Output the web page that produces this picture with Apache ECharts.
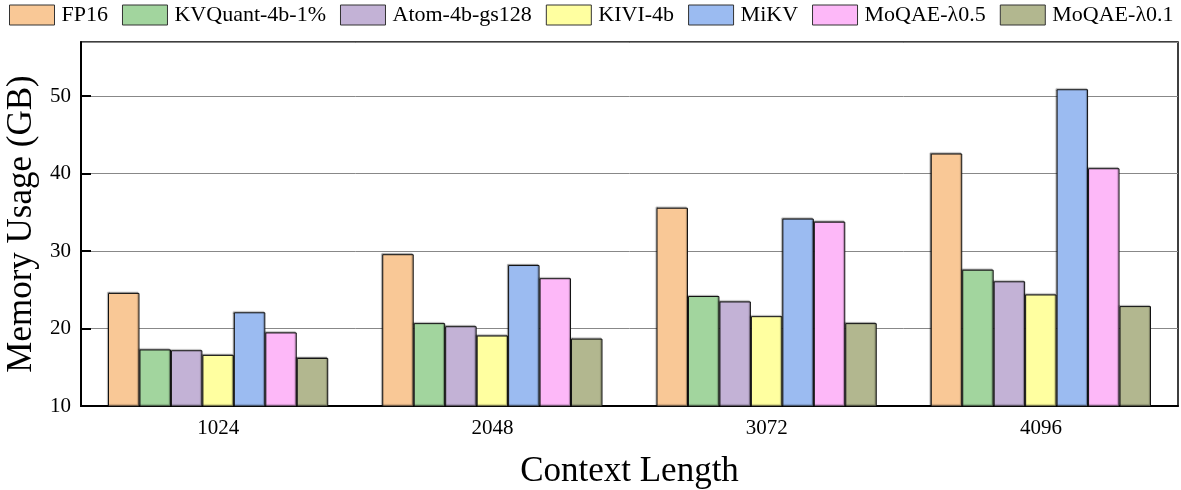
<!DOCTYPE html>
<html>
<head>
<meta charset="utf-8">
<script src="https://cdn.jsdelivr.net/npm/echarts@6/dist/echarts.min.js"></script>
<style>
  html, body { margin: 0; padding: 0; background: #fff; }
  #main { width: 1181px; height: 490px; }
</style>
</head>
<body>
<div id="main"></div>
<script>
var categories = ['1024', '2048', '3072', '4096']
var seriesNames = ['FP16', 'KVQuant-4b-1%', 'Atom-4b-gs128', 'KIVI-4b', 'MiKV', 'MoQAE-λ0.5', 'MoQAE-λ0.1']
var fp16 = [24.6, 29.6, 35.6, 42.6]
var kvquant = [17.3, 20.7, 24.2, 27.6]
var atom = [17.2, 20.3, 23.5, 26.1]
var kivi = [16.6, 19.1, 21.6, 24.4]
var mikv = [22.1, 28.2, 34.2, 50.9]
var moqae05 = [19.5, 26.5, 33.8, 40.7]
var moqae01 = [16.2, 18.7, 20.7, 22.9]
var colors = ['#F9C896', '#A2D59E', '#C3B2D6', '#FFFFA0', '#9BBBF1', '#FDB8F8', '#B2B78F']

var values = [fp16, kvquant, atom, kivi, mikv, moqae05, moqae01]
var font = '"Liberation Serif", "Times New Roman", serif'

var myChart = echarts.init(document.getElementById('main'))

var series = seriesNames.map(function(name, i) {
  return {
    name: name,
    type: 'bar',
    data: values[i],
    barGap: '0%',
    barCategoryGap: '19.7%',
    itemStyle: {
      color: colors[i],
      borderColor: '#111',
      borderWidth: 1,
      shadowColor: 'rgba(0,0,0,0.35)',
      shadowBlur: 1,
      shadowOffsetX: -1,
      shadowOffsetY: -1
    }
  }
})

var option = {
  animation: false,
  color: colors,
  textStyle: { fontFamily: font },
  legend: {
    left: 9,
    top: 4,
    width: 1175,
    padding: 0,
    icon: 'rect',
    itemWidth: 45,
    itemHeight: 20,
    itemGap: 14,
    data: seriesNames,
    textStyle: { fontFamily: font, fontSize: 22, color: '#000', padding: [0, 0, 0, 2] },
    itemStyle: { borderColor: '#333', borderWidth: 1 }
  },
  grid: {
    left: 81, right: 3, top: 42, bottom: 84,
    outerBoundsMode: 'none',
    containLabel: false,
    show: true, borderColor: '#000', borderWidth: 1.5
  },
  xAxis: {
    type: 'category',
    data: categories,
    name: 'Context Length',
    nameLocation: 'middle',
    nameGap: 48,
    nameTextStyle: { fontFamily: font, fontSize: 35, color: '#000' },
    axisLine: { lineStyle: { color: '#000', width: 2 } },
    axisTick: { alignWithLabel: true, inside: true, length: 9, lineStyle: { color: '#000', width: 2 } },
    axisLabel: { fontFamily: font, fontSize: 21, color: '#000', margin: 12 }
  },
  yAxis: {
    type: 'value',
    min: 10,
    max: 57,
    interval: 10,
    name: 'Memory Usage (GB)',
    nameLocation: 'middle',
    nameGap: 38,
    nameTextStyle: { fontFamily: font, fontSize: 35, color: '#000' },
    axisLine: { show: true, lineStyle: { color: '#000', width: 2 } },
    axisTick: { show: true, inside: true, length: 10, lineStyle: { color: '#000', width: 2 } },
    axisLabel: {
      fontFamily: font, fontSize: 21, color: '#000', margin: 10,
      showMaxLabel: false
    },
    splitLine: { show: true, lineStyle: { color: '#888', width: 1 } }
  },
  series: series
}

myChart.setOption(option)
</script>
</body>
</html>
